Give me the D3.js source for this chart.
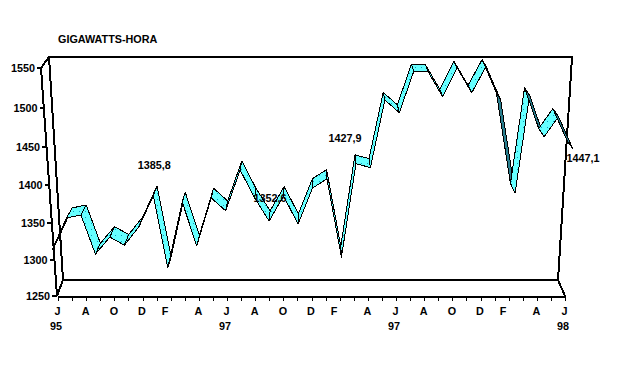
<!DOCTYPE html>
<html>
<head>
<meta charset="utf-8">
<script src="https://cdn.jsdelivr.net/npm/d3@7"></script>
<style>
body { margin: 0; background: #fff; }
text { font-family: "Liberation Sans", Arial, sans-serif; font-size: 10.8px; font-weight: bold; fill: #000; }
.axis-line { stroke: #000; stroke-width: 2; fill: none; shape-rendering: crispEdges; }
.axis path, .axis line { stroke: #000; stroke-width: 2; shape-rendering: crispEdges; }
.axis line { stroke-width: 1; }
.ribbon { stroke: #000; stroke-width: 1; stroke-linejoin: round; shape-rendering: crispEdges; }
</style>
</head>
<body>
<div class="container"></div>
<script>
const WIDTH = 617;
const HEIGHT = 390;

// monthly values, J 95 to J 98
const values = [1313.5, 1356.6, 1360.5, 1308, 1331, 1320, 1344.6, 1385.8, 1289, 1377.6,
	1319, 1383, 1366, 1419.7, 1383, 1352.6, 1385.5, 1348.6, 1396, 1408,
	1304, 1427.9, 1423, 1510, 1494, 1546, 1545, 1514, 1550, 1519,
	1552, 1510, 1389.5, 1516, 1463, 1489, 1447.1];
const monthLabels = ["J","A","O","D","F","A","J","A","O","D","F","A","J","A","O","D","F","A","J"];
const yearLabels = [[0,"95"],[12,"97"],[24,"97"],[36,"98"]];
const yTicks = [1250,1300,1350,1400,1450,1500,1550];
const callouts = [[7,"1385,8"],[15,"1352,6"],[21,"1427,9"],[36,"1447,1"]];

const FRONT_Y = [296,260,223,185,147,108,68];
const BACK_Y = FRONT_Y.map(function(y){ return y - (5.5 + 0.021*y); });

var xAxisScale = d3.scaleLinear().domain([0,36]).range([58,565]);
var xFront = d3.scaleLinear().domain([0,36]).range([52,573]);
var xBack = d3.scaleLinear().domain([0,36]).range([58,567]);
var yFront = d3.scaleLinear().domain(yTicks).range(FRONT_Y);
var yBack = d3.scaleLinear().domain(yTicks).range(BACK_Y);
// the value axis leans with the left side of the box
var xLean = d3.scaleLinear().domain([1250,1550]).range([57,42]);

var svg = d3.select(".container").append("svg")
	.attr("width", WIDTH)
	.attr("height", HEIGHT);

var defs = svg.append("defs");
var dots = defs.append("pattern")
	.attr("id", "dots")
	.attr("width", 6).attr("height", 6)
	.attr("patternUnits", "userSpaceOnUse");
dots.append("rect").attr("width", 6).attr("height", 6).attr("fill", "#66ffff");
dots.append("rect").attr("x", 1).attr("y", 1).attr("width", 1).attr("height", 1).attr("fill", "#0a9fc0");

svg.append("text").attr("x", 58).attr("y", 43).text("GIGAWATTS-HORA");

// box
var box = [
	[[41,68],[49,57],[572,57],[558,280],[63,280],[49,57]],
	[[63,280],[57,296]],
	[[558,280],[565,296]],
	[[41,68],[57,296]]
];
svg.selectAll("path.axis-line").data(box).enter()
	.append("path")
	.classed("axis-line", true)
	.attr("d", d3.line());

// value axis
var yAxisGroup = svg.append("g");
yAxisGroup.selectAll("line").data(yTicks).enter()
	.append("line")
	.attr("class", "axis-line")
	.attr("x1", function(d){ return xLean(d) - 5; })
	.attr("x2", function(d){ return xLean(d); })
	.attr("y1", function(d){ return yFront(d); })
	.attr("y2", function(d){ return yFront(d); });
yAxisGroup.selectAll("text").data(yTicks).enter()
	.append("text")
	.attr("text-anchor", "end")
	.attr("x", function(d){ return xLean(d) - 7; })
	.attr("y", function(d){ return yFront(d) + 4; })
	.text(function(d){ return d; });

// month axis
var xAxis = d3.axisBottom(xAxisScale)
	.tickValues(d3.range(37))
	.tickSize(5)
	.tickSizeOuter(0)
	.tickFormat(function(d){ return d % 2 ? "" : monthLabels[d/2]; });
var xAxisGroup = svg.append("g")
	.attr("class", "axis")
	.attr("transform", "translate(0,296)")
	.call(xAxis);
xAxisGroup.selectAll("text")
	.attr("y", 11)
	.attr("dy", "0.71em")
	.attr("dx", function(d){ return d % 12 == 8 ? -6 : -1; });
xAxisGroup.attr("font-size", null).attr("font-family", null);

svg.selectAll("text.year").data(yearLabels).enter()
	.append("text")
	.classed("year", true)
	.attr("text-anchor", "middle")
	.attr("x", function(d){ return xAxisScale(d[0]) - 2; })
	.attr("y", 330)
	.text(function(d){ return d[1]; });

// ribbon, one quad per month
var segments = d3.range(values.length - 1).map(function(i){
	var a = [xFront(i), yFront(values[i])];
	var b = [xFront(i+1), yFront(values[i+1])];
	var c = [xBack(i+1), yBack(values[i+1])];
	var d = [xBack(i), yBack(values[i])];
	return [a,b,c,d];
});
var line = d3.line().curve(d3.curveLinearClosed);
svg.selectAll("path.ribbon").data(segments).enter()
	.append("path")
	.classed("ribbon", true)
	.attr("d", line)
	.attr("fill", function(q){
		// underside shows when the quad winds the other way
		var cross = (q[1][0]-q[0][0])*(q[3][1]-q[0][1]) - (q[1][1]-q[0][1])*(q[3][0]-q[0][0]);
		return cross > 0 ? "#2a7f8f" : "url(#dots)";
	});

// value labels
var labelOffset = { 7:[1,-27], 15:[1,-19], 21:[-11,-22], 36:[10,13] };
svg.selectAll("text.callout").data(callouts).enter()
	.append("text")
	.classed("callout", true)
	.attr("text-anchor", "middle")
	.attr("x", function(d){ return xFront(d[0]) + labelOffset[d[0]][0]; })
	.attr("y", function(d){ return yFront(values[d[0]]) + labelOffset[d[0]][1]; })
	.text(function(d){ return d[1]; });
</script>
</body>
</html>
